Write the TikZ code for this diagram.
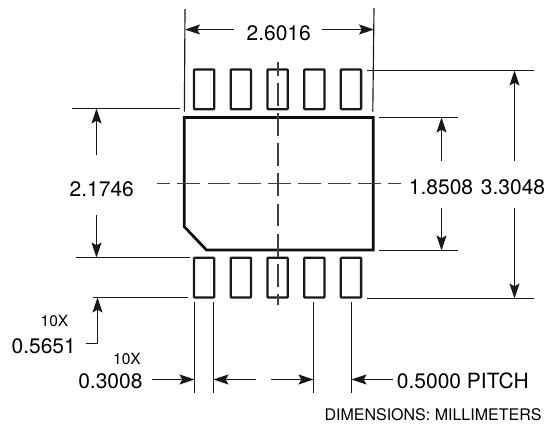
\documentclass[tikz,border=0pt]{standalone}
\usepackage{fontspec}
\setmainfont{TeX Gyre Heros}
\usetikzlibrary{arrows.meta}
\tikzset{
  dimline/.style={line width=1.15pt,draw=black!90},
  dimarrow/.style={dimline,-{Stealth[length=15pt,width=10pt,inset=2.8pt]}},
  padbox/.style={line width=2.3pt,draw=black!90,rounded corners=0.8pt},
  bodyline/.style={line width=2.7pt,draw=black!95,line join=miter},
  centerline/.style={line width=1.15pt,draw=black!75,dash pattern=on 22.9pt off 7.2pt},
  dimtext/.style={inner sep=0pt,font=\fontsize{21}{21}\selectfont,text=black},
  smalltext/.style={inner sep=0pt,font=\fontsize{15.5}{15.5}\selectfont,text=black},
  notetext/.style={inner sep=0pt,font=\fontsize{16}{16}\selectfont,text=black},
}
\begin{document}
\begin{tikzpicture}[x=1pt,y=-1pt]
\useasboundingbox (0,0) rectangle (552,426);
% pads
\foreach \px in {194,230.7,267.5,304.2,340.8}{
  \draw[padbox] (\px,69.5) rectangle ++(20.3,39.7);
  \draw[padbox] (\px,257.8) rectangle ++(20.3,39.7);
}
% body
\draw[bodyline] (184.3,117.5) -- (373.3,117.5) -- (373.3,250) -- (206.5,250) -- (184.3,226.7) -- cycle;
% centre lines
\draw[centerline,dash phase=9pt] (278,62) -- (278,305);
\draw[centerline,dash phase=10pt] (157.3,183.5) -- (401,183.5);
% labels
\node[dimtext] (w) at (278.7,33) {2.6016};
\node[dimtext] (h) at (101.8,189) {2.1746};
\node[dimtext] (b) at (441,187.7) {1.8508};
\node[dimtext] (t) at (513,187.7) {3.3048};
\node[dimtext,anchor=east] (pl) at (76,346) {0.5651};
\node[smalltext] (pn) at (54.5,321) {10X};
\node[dimtext,anchor=east] (wl) at (142.7,381.7) {0.3008};
\node[smalltext] (wn) at (127,359.3) {10X};
\node[dimtext,anchor=west] (pt) at (396.7,380.5) {0.5000 PITCH};
\node[notetext,anchor=east] (nt) at (541.7,415) {DIMENSIONS: MILLIMETERS};
% overall width
\draw[dimline] (185,9) -- (184.4,111.5);
\draw[dimline] (374,8) -- (372.8,111.5);
\draw[dimarrow] (233.5,29.5) -- (185,29.5);
\draw[dimarrow] (322,29.5) -- (374,29.5);
% total height
\draw[dimline] (367,70.5) -- (534,70.5);
\draw[dimline] (367,298.5) -- (534,298.5);
\draw[dimarrow] (514.5,160.7) -- (514.5,70.5);
\draw[dimarrow] (514.5,208.3) -- (514.5,298.5);
% body height
\draw[dimline] (379.3,117.5) -- (458.3,117.5);
\draw[dimline] (379.3,250.5) -- (458.3,250.5);
\draw[dimarrow] (441.5,160.7) -- (441.5,117.5);
\draw[dimarrow] (441.5,208.3) -- (441.5,250.5);
% left span
\draw[dimline] (71.7,108.5) -- (180,108.5);
\draw[dimline] (75.5,257.5) -- (190,257.5);
\draw[dimarrow] (96.5,155) -- (96.5,108.5);
\draw[dimarrow] (96.5,215) -- (96.5,257.5);
% pad length
\draw[dimline] (92.7,297.5) -- (187.7,297.5);
\draw[dimarrow] (85.7,343.5) -- (97.5,343.5) -- (97.5,297.5);
% pad width and pitch
\draw[dimline] (194.5,301.5) -- (194.5,393.3);
\draw[dimline] (213.5,301.5) -- (213.5,393.3);
\draw[dimline] (313.5,301.5) -- (313.5,393.3);
\draw[dimline] (351.5,301.5) -- (351.5,393.3);
\draw[dimarrow] (152.3,379.5) -- (194.5,379.5);
\draw[dimarrow] (255.7,379.5) -- (213.5,379.5);
\draw[dimarrow] (271.3,379.5) -- (313.5,379.5);
\draw[dimarrow] (392.7,379.5) -- (351.5,379.5);
\end{tikzpicture}
\end{document}
